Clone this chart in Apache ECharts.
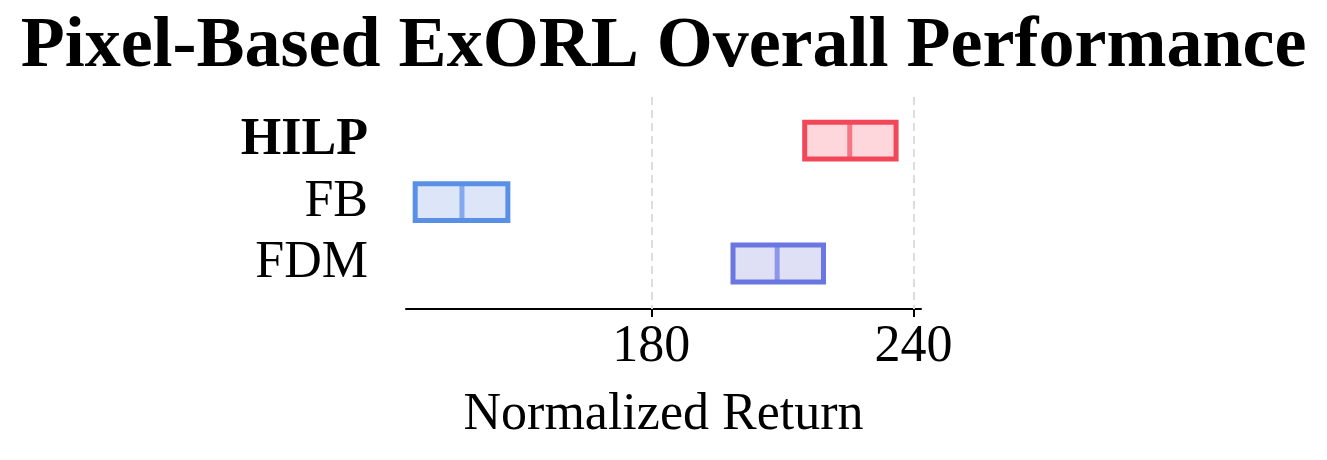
<!DOCTYPE html>
<html>
<head>
<meta charset="utf-8">
<script src="https://cdn.jsdelivr.net/npm/echarts@6/dist/echarts.min.js"></script>
<style>
html,body{margin:0;padding:0;background:#fff;}
#chart{width:1327px;height:460px;}
</style>
</head>
<body>
<div id="chart"></div>
<script>
// ---- data ----
const methods = ['HILP', 'FB', 'FDM'];
const q1Values = [215.1, 126.0, 198.7];
const medianValues = [225.4, 136.7, 208.8];
const q3Values = [236.0, 147.2, 219.4];
const xTickValues = [180, 240];
const titleText = 'Pixel-Based ExORL Overall Performance';
const xAxisName = 'Normalized Return';

// ---- style ----
const edgeColors = ['#f24659', '#5a8fe6', '#6b77e0'];
const fillColors = ['#fdd7dc', '#dce6f8', '#dfe0f6'];
const medianColors = ['#f67784', '#84a9ee', '#8e96e8'];
const FONT = '"Liberation Serif", "Times New Roman", serif';
const BOX_H = 0.6;

const seriesData = methods.map((m, i) => [i, q1Values[i], medianValues[i], q3Values[i]]);

const chart = echarts.init(document.getElementById('chart'), null, {renderer: 'canvas'});
chart.setOption({
  backgroundColor: '#ffffff',
  animation: false,
  title: {
    text: titleText,
    left: 'center',
    top: 6,
    textStyle: {fontFamily: FONT, fontWeight: 'bold', fontSize: 72, color: '#000'}
  },
  grid: {left: 406, right: 406, top: 97, bottom: 151},
  xAxis: {
    type: 'value',
    min: 123.9,
    max: 241.7,
    name: xAxisName,
    nameLocation: 'middle',
    nameGap: 80,
    nameTextStyle: {fontFamily: FONT, fontSize: 52, color: '#000'},
    axisLine: {show: true, onZero: false, lineStyle: {color: '#000', width: 2}},
    axisTick: {show: true, customValues: xTickValues, length: 8, lineStyle: {color: '#000', width: 2}},
    axisLabel: {
      customValues: xTickValues,
      margin: 12,
      fontFamily: FONT, fontSize: 52, color: '#000'
    },
    splitLine: {show: false}
  },
  yAxis: {
    type: 'value',
    inverse: true,
    min: -0.71,
    max: 2.74,
    axisLine: {show: false},
    axisTick: {show: false},
    splitLine: {show: false},
    axisLabel: {
      customValues: methods.map((m, i) => i),
      margin: 38,
      formatter: function (v) {
        const name = methods[Math.round(v)];
        return Math.round(v) === 0 ? '{b|' + name + '}' : '{n|' + name + '}';
      },
      rich: {
        b: {fontFamily: FONT, fontSize: 52, fontWeight: 'bold', color: '#000'},
        n: {fontFamily: FONT, fontSize: 52, color: '#000'}
      }
    }
  },
  series: [{
    type: 'custom',
    encode: {x: [1, 2, 3], y: 0},
    data: seriesData,
    renderItem: function (params, api) {
      const i = api.value(0);
      const p1 = api.coord([api.value(1), i]);
      const pm = api.coord([api.value(2), i]);
      const p3 = api.coord([api.value(3), i]);
      const h = api.size([0, BOX_H])[1];
      const top = p1[1] - h / 2;
      const idx = params.dataIndex;
      return {
        type: 'group',
        children: [
          {type: 'rect', shape: {x: p1[0], y: top, width: p3[0] - p1[0], height: h},
           style: {fill: fillColors[idx], stroke: null}},
          {type: 'line', shape: {x1: pm[0], y1: top, x2: pm[0], y2: top + h},
           style: {stroke: medianColors[idx], lineWidth: 5}},
          {type: 'rect', shape: {x: p1[0], y: top, width: p3[0] - p1[0], height: h},
           style: {fill: null, stroke: edgeColors[idx], lineWidth: 5}}
        ]
      };
    },
    markLine: {
      silent: true,
      symbol: 'none',
      label: {show: false},
      lineStyle: {color: '#dddddd', width: 2, type: [8, 5]},
      data: xTickValues.map(v => ({xAxis: v}))
    },
    z: 3
  }]
});
</script>
</body>
</html>
